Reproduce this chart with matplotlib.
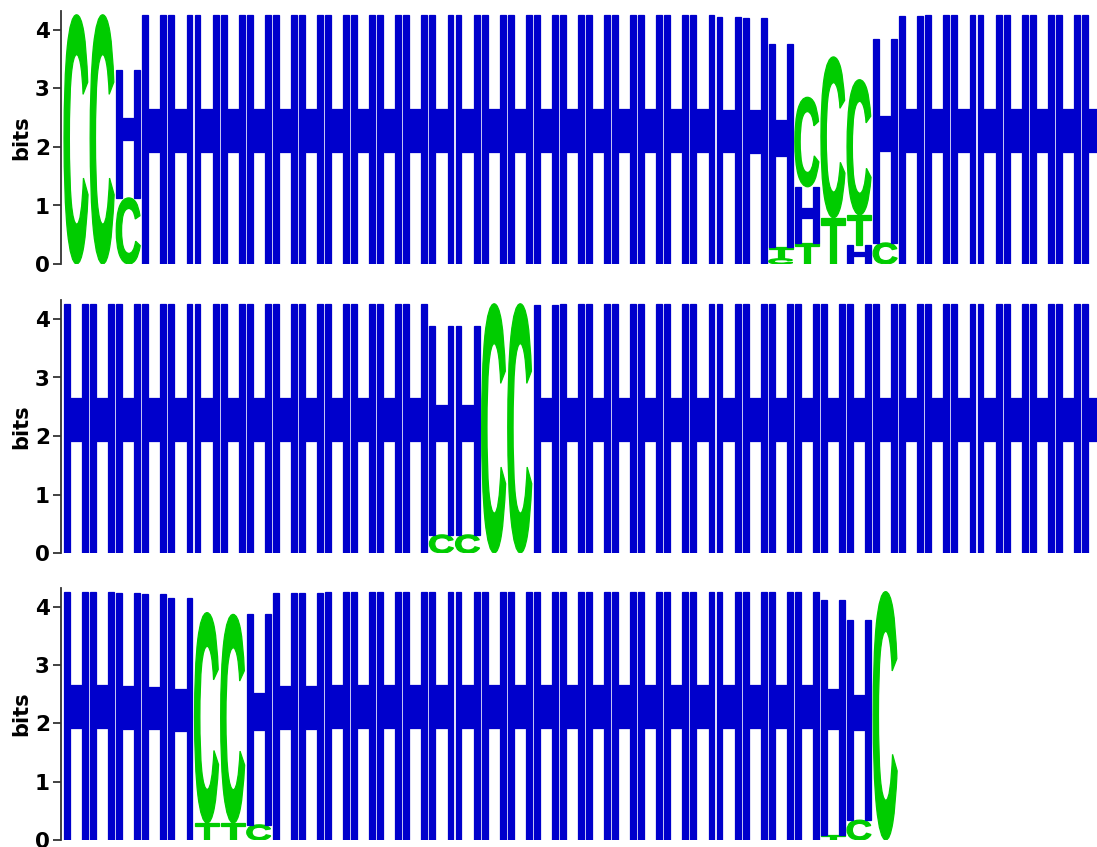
import matplotlib
matplotlib.use("Agg")
import matplotlib.pyplot as plt
from matplotlib.font_manager import FontProperties
from matplotlib.patches import PathPatch
from matplotlib.path import Path
from matplotlib.textpath import TextPath
from matplotlib.transforms import Affine2D

# bits per letter per position, one list per letter and row
row1_H = [
    0.00, 0.00, 2.19, 4.26, 4.26, 4.26, 4.26, 4.26, 4.26, 4.26,
    4.26, 4.26, 4.26, 4.26, 4.26, 4.26, 4.26, 4.26, 4.26, 4.26,
    4.26, 4.26, 4.26, 4.26, 4.26, 4.23, 4.21, 3.47, 0.96, 0.00,
    0.32, 3.49, 4.24, 4.26, 4.26, 4.26, 4.26, 4.26, 4.26, 4.26,
]
row1_C = [
    4.26, 4.26, 1.13, 0.00, 0.00, 0.00, 0.00, 0.00, 0.00, 0.00,
    0.00, 0.00, 0.00, 0.00, 0.00, 0.00, 0.00, 0.00, 0.00, 0.00,
    0.00, 0.00, 0.00, 0.00, 0.00, 0.00, 0.00, 0.09, 1.53, 2.75,
    2.31, 0.36, 0.00, 0.00, 0.00, 0.00, 0.00, 0.00, 0.00, 0.00,
]
row1_T = [
    0.00, 0.00, 0.00, 0.00, 0.00, 0.00, 0.00, 0.00, 0.00, 0.00,
    0.00, 0.00, 0.00, 0.00, 0.00, 0.00, 0.00, 0.00, 0.00, 0.00,
    0.00, 0.00, 0.00, 0.00, 0.00, 0.00, 0.00, 0.20, 0.36, 0.79,
    0.52, 0.00, 0.00, 0.00, 0.00, 0.00, 0.00, 0.00, 0.00, 0.00,
]

row2_H = [
    4.26, 4.26, 4.26, 4.26, 4.26, 4.26, 4.26, 4.26, 4.26, 4.26,
    4.26, 4.26, 4.26, 4.26, 3.57, 3.57, 0.00, 0.00, 4.24, 4.26,
    4.26, 4.26, 4.26, 4.26, 4.26, 4.26, 4.26, 4.26, 4.26, 4.26,
    4.26, 4.26, 4.26, 4.26, 4.26, 4.26, 4.26, 4.26, 4.26, 4.26,
]
row2_C = [
    0.00, 0.00, 0.00, 0.00, 0.00, 0.00, 0.00, 0.00, 0.00, 0.00,
    0.00, 0.00, 0.00, 0.00, 0.31, 0.31, 4.26, 4.26, 0.00, 0.00,
    0.00, 0.00, 0.00, 0.00, 0.00, 0.00, 0.00, 0.00, 0.00, 0.00,
    0.00, 0.00, 0.00, 0.00, 0.00, 0.00, 0.00, 0.00, 0.00, 0.00,
]

row3_H = [
    4.26, 4.26, 4.23, 4.22, 4.15, 0.00, 0.00, 3.62, 4.23, 4.23,
    4.26, 4.26, 4.26, 4.26, 4.26, 4.26, 4.26, 4.26, 4.26, 4.26,
    4.26, 4.26, 4.26, 4.26, 4.26, 4.26, 4.26, 4.26, 4.26, 4.03,
    3.44, 0.00,
]
row3_C = [
    0.00, 0.00, 0.00, 0.00, 0.00, 3.61, 3.58, 0.26, 0.00, 0.00,
    0.00, 0.00, 0.00, 0.00, 0.00, 0.00, 0.00, 0.00, 0.00, 0.00,
    0.00, 0.00, 0.00, 0.00, 0.00, 0.00, 0.00, 0.00, 0.00, 0.00,
    0.34, 4.26,
]
row3_T = [
    0.00, 0.00, 0.00, 0.00, 0.00, 0.29, 0.29, 0.00, 0.00, 0.00,
    0.00, 0.00, 0.00, 0.00, 0.00, 0.00, 0.00, 0.00, 0.00, 0.00,
    0.00, 0.00, 0.00, 0.00, 0.00, 0.00, 0.00, 0.00, 0.00, 0.08,
    0.00, 0.00,
]

rows = [
    {"H": row1_H, "C": row1_C, "T": row1_T},
    {"H": row2_H, "C": row2_C},
    {"H": row3_H, "C": row3_C, "T": row3_T},
]

COLORS = {"H": "#0000cc", "C": "#00cc00", "T": "#00cc00"}
GLYPH_FONT = FontProperties(family="Liberation Sans", weight="bold")
Y_MAX = 4.32


def unit_glyph(letter):
    """Glyph outline scaled into the unit square."""
    path = TextPath((0, 0), letter, size=1, prop=GLYPH_FONT)
    ext = path.get_extents()
    tr = Affine2D().translate(-ext.x0, -ext.y0).scale(1 / ext.width, 1 / ext.height)
    path = tr.transform_path(path)
    if letter == "H":
        # lift the crossbar a bit, like the Helvetica H of the original
        verts = path.vertices.copy()
        mid = (verts[:, 1] > 0.2) & (verts[:, 1] < 0.8)
        verts[mid, 1] += 0.022
        path = Path(verts, path.codes)
    return path


GLYPHS = {k: unit_glyph(k) for k in COLORS}


def draw_letter(ax, letter, x, y, w, h):
    tr = Affine2D().scale(w, h).translate(x, y)
    ax.add_patch(PathPatch(tr.transform_path(GLYPHS[letter]),
                           facecolor=COLORS[letter], edgecolor=COLORS[letter],
                           linewidth=0.9))


def draw_logo(ax, letters):
    n = len(letters["H"])
    for i in range(n):
        stack = [(k, v[i]) for k, v in letters.items() if v[i] > 0]
        y = 0.0
        for letter, h in sorted(stack, key=lambda p: p[1]):
            draw_letter(ax, letter, i + 0.04, y, 0.92, h)
            y += h


fig = plt.figure(figsize=(10.97, 8.47), dpi=100)
W, H = 1097, 847
col_px = 26.1
zero_px = [264, 553, 840]
bit_px = [58.5, 58.5, 58.3]
left_px = 61

for letters, z, bp in zip(rows, zero_px, bit_px):
    height = Y_MAX * bp
    ax = fig.add_axes([left_px / W, (H - z) / H, (W - left_px) / W, height / H])
    draw_logo(ax, letters)
    x0 = -2 / col_px
    ax.set_xlim(x0, x0 + (W - left_px) / col_px)
    ax.set_ylim(0, Y_MAX)
    for side in ["top", "right", "bottom"]:
        ax.spines[side].set_visible(False)
    ax.spines["left"].set_color("#333333")
    ax.spines["left"].set_linewidth(1.3)
    ax.set_xticks([])
    ax.set_yticks([0, 1, 2, 3, 4])
    ax.tick_params(axis="y", direction="out", length=6, width=1.3,
                   color="#333333", pad=2, labelsize=15.5)
    for lab in ax.get_yticklabels():
        lab.set_fontweight("bold")
        lab.set_family("DejaVu Sans")
    ax.set_ylabel("bits", fontsize=15, fontweight="bold", family="DejaVu Sans")
    ax.yaxis.set_label_coords(-30 / (W - left_px), 0.5)
    ax.patch.set_alpha(0)

fig.savefig("out.png", dpi=100)
